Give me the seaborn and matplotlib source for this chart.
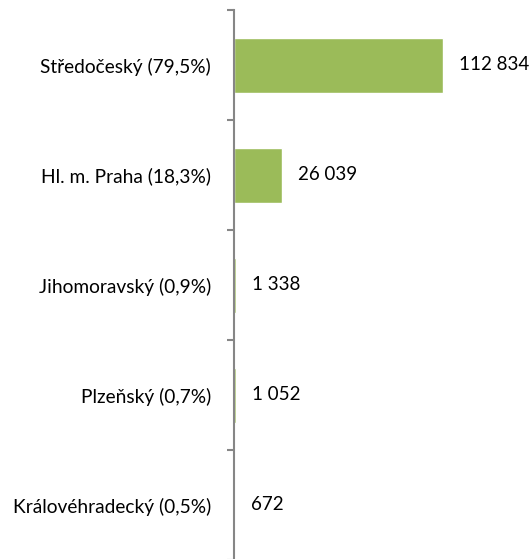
import matplotlib
matplotlib.use('Agg')
import matplotlib.pyplot as plt
import seaborn as sns
import pandas as pd

# data
kraje = ['Středočeský (79,5%)', 'Hl. m. Praha (18,3%)', 'Jihomoravský (0,9%)',
         'Plzeňský (0,7%)', 'Královéhradecký (0,5%)']
hodnoty = [112834, 26039, 1338, 1052, 672]

df = pd.DataFrame({'kraj': kraje, 'hodnota': hodnoty})

sns.set_style('white')
plt.rcParams['font.family'] = ['Lato', 'DejaVu Sans']

fig = plt.figure(figsize=(5.31, 5.59), dpi=100)
ax = fig.add_axes([234 / 531, -1 / 559, 297 / 531, 550 / 559])

sns.barplot(data=df, y='kraj', x='hodnota', orient='h', color='#9BBB59',
            saturation=1, width=0.5, ax=ax)

ax.set_xlim(0, 160300)
ax.set_ylim(4.5, -0.5)
ax.set_xlabel('')
ax.set_ylabel('')
ax.set_xticks([])

for s in ['top', 'right', 'bottom']:
    ax.spines[s].set_visible(False)
ax.spines['left'].set_color('#868686')
ax.spines['left'].set_linewidth(1.5)

ax.set_yticks(range(len(kraje)))
ax.set_yticklabels(kraje)
ax.set_yticks([i - 0.5 for i in range(len(kraje) + 1)], minor=True)
ax.tick_params(axis='y', which='major', left=True, length=0, pad=16.5,
               labelsize=13.8, labelcolor='#000000')
ax.tick_params(axis='y', which='minor', left=True, length=5, width=1.5,
               color='#868686', direction='out')

# popisky hodnot
for i, v in enumerate(hodnoty):
    txt = f'{v:,}'.replace(',', ' ')
    ax.annotate(txt, xy=(v, i), xytext=(11.5, 0), textcoords='offset points',
                va='center', ha='left', fontsize=13.5, color='#000000')

fig.savefig('out.png', dpi=100)
